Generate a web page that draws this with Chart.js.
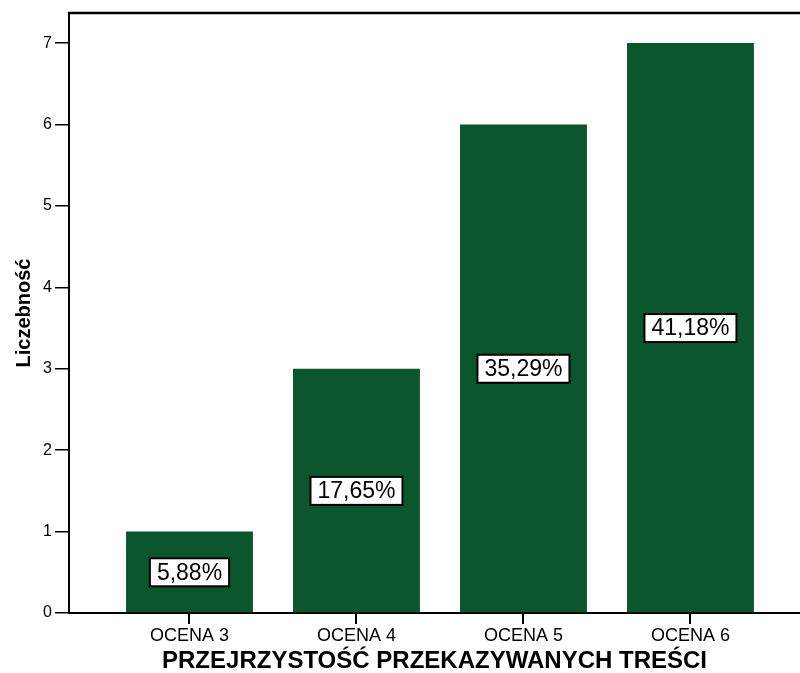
<!DOCTYPE html>
<html>
<head>
<meta charset="utf-8">
<script src="https://cdn.jsdelivr.net/npm/chart.js@4/dist/chart.umd.min.js"></script>
<style>
html,body{margin:0;padding:0;background:#fff;}
#wrap{width:800px;height:673px;}
</style>
</head>
<body>
<div id="wrap"><canvas id="c" width="800" height="673"></canvas></div>
<script>
const categories = ["OCENA 3", "OCENA 4", "OCENA 5", "OCENA 6"];
const counts = [1, 3, 6, 7];
const percentLabels = ["5,88%", "17,65%", "35,29%", "41,18%"];
const yTicks = [0, 1, 2, 3, 4, 5, 6, 7];

const FONT = "'Liberation Sans', Arial, Helvetica, sans-serif";
const BAR_COLOR = "#0b562d";

const frameAndTicks = {
  id: 'frameAndTicks',
  afterDraw(chart) {
    const {ctx, chartArea} = chart;
    const xs = chart.scales.x;
    ctx.save();
    ctx.strokeStyle = '#000';
    ctx.lineWidth = 2.5;
    ctx.beginPath();
    ctx.moveTo(chartArea.left - 1, chartArea.top);
    ctx.lineTo(chartArea.right, chartArea.top);
    ctx.stroke();
    ctx.lineWidth = 2;
    for (let i = 0; i < categories.length; i++) {
      const px = Math.round(xs.getPixelForValue(i));
      ctx.beginPath();
      ctx.moveTo(px, chartArea.bottom + 1);
      ctx.lineTo(px, chartArea.bottom + 11);
      ctx.stroke();
    }
    ctx.restore();
  }
};

const boxLabels = {
  id: 'boxLabels',
  afterDatasetsDraw(chart) {
    const {ctx} = chart;
    const meta = chart.getDatasetMeta(0);
    const yScale = chart.scales.y;
    ctx.save();
    ctx.font = "23px " + FONT;
    ctx.textAlign = 'center';
    ctx.textBaseline = 'middle';
    meta.data.forEach((bar, i) => {
      const cx = bar.x;
      const cy = yScale.getPixelForValue(counts[i] / 2);
      const tw = ctx.measureText(percentLabels[i]).width;
      const w = tw + 14, h = 28;
      ctx.fillStyle = '#fff';
      ctx.fillRect(cx - w / 2, cy - h / 2, w, h);
      ctx.strokeStyle = '#000';
      ctx.lineWidth = 2;
      ctx.strokeRect(cx - w / 2, cy - h / 2, w, h);
      ctx.fillStyle = '#000';
      ctx.fillText(percentLabels[i], cx, cy + 1);
    });
    ctx.restore();
  }
};

new Chart(document.getElementById('c'), {
  type: 'bar',
  data: {
    datasets: [{
      data: counts.map((v, i) => ({x: i, y: v})),
      backgroundColor: BAR_COLOR,
      borderWidth: 0,
      barPercentage: 0.76,
      categoryPercentage: 1
    }]
  },
  options: {
    responsive: false,
    animation: false,
    devicePixelRatio: 1,
    layout: {padding: {top: 13, right: 0, left: 0, bottom: 0}},
    plugins: {legend: {display: false}, tooltip: {enabled: false}},
    scales: {
      x: {
        type: 'linear',
        offset: false,
        min: -0.7216,
        max: 3.656,
        afterBuildTicks(axis) { axis.ticks = categories.map((_, i) => ({value: i})); },
        afterFit(axis) { axis.height = 60; },
        ticks: {
          color: '#000',
          font: {family: FONT, size: 18},
          padding: 2,
          maxRotation: 0,
          autoSkip: false,
          callback: (v) => categories[v] ?? ''
        },
        grid: {offset: false, drawOnChartArea: false, drawTicks: true, tickLength: 10, color: '#000', lineWidth: 2},
        border: {display: true, color: '#000', width: 2},
        title: {
          display: true,
          text: 'PRZEJRZYSTOŚĆ PRZEKAZYWANYCH TREŚCI',
          color: '#000',
          font: {family: FONT, size: 24, weight: 'bold', lineHeight: 1},
          padding: {top: 0, bottom: 0}
        }
      },
      y: {
        min: 0,
        max: 7.37,
        afterBuildTicks(axis) { axis.ticks = yTicks.map(v => ({value: v})); },
        afterFit(axis) { axis.width = 69; },
        ticks: {color: '#000', font: {family: FONT, size: 16}, padding: 3},
        grid: {drawOnChartArea: false, drawTicks: true, tickLength: 14, color: '#000', lineWidth: 1.5},
        border: {display: true, color: '#000', width: 2},
        title: {
          display: true,
          text: 'Liczebność',
          color: '#000',
          font: {family: FONT, size: 20, weight: 'bold', lineHeight: 1},
          padding: {top: 14, bottom: 0}
        }
      }
    }
  },
  plugins: [frameAndTicks, boxLabels]
});
</script>
</body>
</html>
